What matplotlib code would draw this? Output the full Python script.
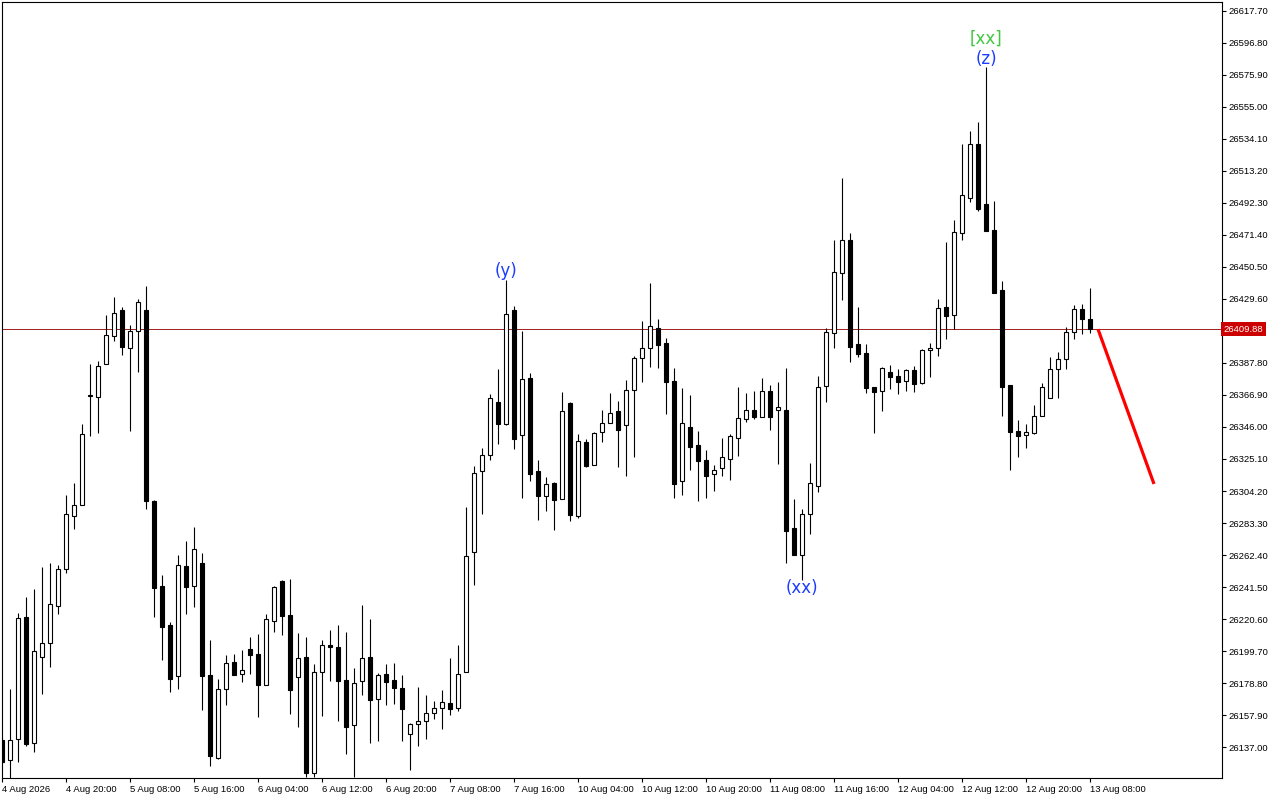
import matplotlib
matplotlib.use("Agg")
import matplotlib.pyplot as plt
import matplotlib.transforms as mtransforms

# H1 bars, oldest first
opens = [
    26141.6, 26128.6, 26142.3, 26221.9, 26139.7, 26195.8, 26205.0, 26229.1, 26253.3, 26287.9,
    26295.1, 26366.3, 26365.6, 26387.2, 26405.4, 26422.4, 26397.6, 26408.7, 26422.4, 26297.7,
    26242.2, 26216.7, 26183.4, 26255.3, 26242.2, 26257.2, 26184.1, 26129.9, 26174.9, 26192.6,
    26184.7, 26201.1, 26197.8, 26177.6, 26219.3, 26245.5, 26223.3, 26182.8, 26195.8, 26120.1,
    26186.0, 26203.7, 26202.4, 26180.8, 26151.4, 26180.2, 26195.8, 26168.4, 26184.7, 26180.8,
    26175.6, 26145.5, 26152.1, 26154.0, 26159.3, 26162.5, 26165.8, 26162.5, 26186.0, 26264.4,
    26317.3, 26327.7, 26362.3, 26348.0, 26422.4, 26340.8, 26378.0, 26317.3, 26301.0, 26309.5,
    26299.0, 26361.7, 26287.9, 26336.2, 26321.2, 26342.8, 26348.6, 26356.5, 26347.3, 26370.2,
    26391.1, 26397.6, 26410.7, 26400.9, 26376.1, 26310.8, 26346.0, 26334.3, 26324.5, 26315.3,
    26319.3, 26325.1, 26338.8, 26351.2, 26357.1, 26352.6, 26369.5, 26357.1, 26357.1, 26280.1,
    26262.4, 26289.2, 26307.5, 26372.8, 26407.4, 26446.6, 26468.1, 26400.2, 26394.3, 26372.1,
    26369.5, 26381.9, 26379.3, 26376.1, 26383.2, 26374.8, 26396.3, 26397.6, 26424.4, 26419.2,
    26472.7, 26495.6, 26530.8, 26491.6, 26474.7, 26435.5, 26373.4, 26343.4, 26340.8, 26342.1,
    26353.2, 26365.0, 26383.9, 26390.4, 26408.1, 26423.1, 26416.5]
highs = [
    26142.9, 26174.9, 26224.6, 26235.0, 26240.2, 26254.6, 26257.2, 26255.9, 26301.6, 26309.5,
    26348.0, 26387.2, 26389.1, 26419.2, 26430.9, 26424.4, 26412.6, 26429.6, 26438.1, 26298.4,
    26249.4, 26218.7, 26262.4, 26271.6, 26280.7, 26263.7, 26206.9, 26181.5, 26197.1, 26197.8,
    26200.4, 26208.9, 26210.9, 26223.9, 26242.2, 26245.8, 26246.8, 26211.5, 26208.9, 26191.3,
    26206.9, 26213.5, 26216.7, 26212.2, 26188.6, 26229.8, 26220.6, 26185.4, 26191.3, 26191.9,
    26184.1, 26152.4, 26176.2, 26171.0, 26167.1, 26174.3, 26195.2, 26203.7, 26293.8, 26320.6,
    26332.3, 26367.6, 26383.9, 26442.0, 26425.0, 26408.7, 26381.3, 26324.5, 26313.4, 26310.2,
    26368.9, 26362.0, 26341.5, 26338.2, 26342.8, 26357.1, 26368.2, 26363.0, 26376.7, 26392.4,
    26415.2, 26440.1, 26416.5, 26404.1, 26384.6, 26371.5, 26366.9, 26343.4, 26331.0, 26321.2,
    26338.8, 26341.5, 26372.1, 26368.2, 26369.5, 26378.0, 26373.4, 26375.4, 26384.6, 26299.0,
    26292.5, 26322.5, 26379.3, 26410.7, 26468.1, 26508.6, 26472.7, 26424.4, 26400.2, 26372.4,
    26384.9, 26386.5, 26383.9, 26383.9, 26385.9, 26396.6, 26400.9, 26429.6, 26466.8, 26481.2,
    26530.8, 26539.3, 26545.2, 26581.1, 26493.6, 26441.4, 26373.7, 26350.6, 26348.0, 26360.4,
    26374.8, 26391.7, 26395.0, 26411.3, 26425.7, 26426.3, 26436.8]
lows = [
    26126.6, 26116.8, 26127.3, 26137.7, 26133.8, 26171.7, 26189.3, 26223.9, 26250.7, 26279.4,
    26294.9, 26340.1, 26342.1, 26387.0, 26402.2, 26393.0, 26343.4, 26381.9, 26292.5, 26221.9,
    26193.9, 26173.0, 26174.9, 26223.9, 26228.5, 26161.2, 26124.7, 26129.2, 26164.5, 26183.8,
    26179.5, 26184.7, 26156.7, 26177.4, 26212.2, 26210.2, 26158.6, 26150.1, 26117.5, 26117.5,
    26157.3, 26180.2, 26154.0, 26132.5, 26117.5, 26171.0, 26139.7, 26141.0, 26164.5, 26165.1,
    26141.0, 26122.0, 26137.7, 26142.3, 26155.3, 26148.8, 26158.0, 26160.6, 26185.7, 26242.8,
    26289.2, 26324.5, 26334.9, 26347.3, 26331.7, 26299.7, 26310.8, 26285.3, 26291.2, 26278.8,
    26298.8, 26284.6, 26286.6, 26319.9, 26321.0, 26336.2, 26348.4, 26319.9, 26314.0, 26326.4,
    26375.4, 26385.2, 26384.6, 26354.5, 26299.7, 26301.6, 26317.9, 26297.7, 26299.7, 26304.2,
    26314.0, 26311.4, 26327.1, 26349.3, 26351.2, 26352.4, 26344.1, 26321.9, 26257.2, 26262.2,
    26246.1, 26276.2, 26303.6, 26362.3, 26397.6, 26429.0, 26388.5, 26391.7, 26368.2, 26342.1,
    26356.5, 26370.8, 26367.6, 26369.5, 26368.9, 26374.1, 26378.7, 26392.4, 26403.5, 26410.0,
    26468.1, 26492.9, 26487.1, 26473.8, 26433.3, 26353.2, 26317.9, 26326.4, 26332.3, 26341.5,
    26353.0, 26364.8, 26365.0, 26383.9, 26403.5, 26406.8, 26407.4]
closes = [
    26127.3, 26141.6, 26221.3, 26139.0, 26199.8, 26205.0, 26230.4, 26253.3, 26289.2, 26295.1,
    26341.5, 26366.9, 26385.9, 26406.1, 26420.5, 26398.3, 26408.7, 26427.6, 26297.7, 26240.9,
    26215.4, 26181.5, 26255.9, 26241.5, 26266.4, 26183.4, 26131.2, 26174.9, 26191.9, 26184.1,
    26187.3, 26197.1, 26177.6, 26220.6, 26241.5, 26222.6, 26174.3, 26195.2, 26120.1, 26186.0,
    26203.7, 26202.4, 26180.2, 26150.1, 26178.9, 26195.2, 26167.8, 26184.1, 26179.5, 26175.6,
    26161.9, 26152.1, 26154.0, 26159.3, 26162.5, 26166.4, 26161.9, 26184.7, 26261.8, 26316.0,
    26327.7, 26365.0, 26348.0, 26419.8, 26338.2, 26377.4, 26315.3, 26301.0, 26308.8, 26298.4,
    26356.5, 26288.6, 26336.9, 26320.6, 26342.1, 26348.6, 26355.2, 26344.1, 26370.2, 26391.1,
    26397.6, 26412.0, 26399.6, 26375.4, 26308.8, 26348.6, 26333.0, 26323.8, 26314.0, 26317.9,
    26326.4, 26340.1, 26351.9, 26357.1, 26352.6, 26369.5, 26352.6, 26359.1, 26278.1, 26262.4,
    26289.2, 26309.5, 26372.1, 26408.1, 26447.2, 26468.1, 26398.3, 26393.7, 26371.5, 26368.9,
    26384.6, 26378.7, 26375.4, 26383.2, 26374.1, 26396.3, 26397.6, 26423.7, 26418.5, 26473.4,
    26497.5, 26530.8, 26488.4, 26474.0, 26433.5, 26372.1, 26342.8, 26340.1, 26342.8, 26353.2,
    26372.1, 26383.9, 26390.4, 26408.1, 26423.1, 26416.5, 26409.88]

x_labels = ["4 Aug 2026", "4 Aug 20:00", "5 Aug 08:00", "5 Aug 16:00", "6 Aug 04:00",
            "6 Aug 12:00", "6 Aug 20:00", "7 Aug 08:00", "7 Aug 16:00", "10 Aug 04:00",
            "10 Aug 12:00", "10 Aug 20:00", "11 Aug 08:00", "11 Aug 16:00", "12 Aug 04:00",
            "12 Aug 12:00", "12 Aug 20:00", "13 Aug 08:00"]
y_ticks = [26617.70, 26596.80, 26575.90, 26555.00, 26534.10, 26513.20, 26492.30, 26471.40,
           26450.50, 26429.60, 26387.80, 26366.90, 26346.00, 26325.10, 26304.20,
           26283.30, 26262.40, 26241.50, 26220.60, 26199.70, 26178.80, 26157.90, 26137.00]
last_price = 26409.88
# wave labels: (bar, price, text, colour)
waves = [(63, 26447.9, "(y)", "#1a3cff"), (100, 26240.9, "(xx)", "#1a3cff"),
         (123, 26586.3, "(z)", "#1a3cff"), (123, 26599.4, "[xx]", "#3fc73f")]
# projected move
proj_x = [137, 144]
proj_y = [26409.88, 26308.8]

FONT = "Liberation Sans"

fig = plt.figure(figsize=(12.8, 8), dpi=100)
fig.patch.set_facecolor("white")
ax = fig.add_axes([2 / 1280, 22 / 800, 1220 / 1280, 776 / 800])
ax.set_facecolor("white")

xs = list(range(len(opens)))
ax.vlines(xs, lows, highs, color="black", linewidth=0.8, zorder=2)
for i in xs:
    o, c = opens[i], closes[i]
    fc = "white" if c >= o else "black"
    ax.bar(i, abs(c - o), bottom=min(o, c), width=0.55, color=fc,
           edgecolor="black", linewidth=0.8, zorder=3)

ax.axhline(last_price, color="#a01e1e", linewidth=0.7, zorder=1)
ax.plot(proj_x, proj_y, color="#ff0000", linewidth=2.3, solid_capstyle="butt", zorder=4)

for bx, py, txt, col in waves:
    ax.text(bx, py, txt, color=col, fontsize=12, ha="center", va="center",
            family="DejaVu Sans", zorder=5)

ax.set_xlim(0, 152.5)
ax.set_ylim(26116.8, 26623.5)

ax.set_xticks(list(range(0, 8 * len(x_labels), 8)))
ax.set_xticklabels(x_labels, ha="left", fontsize=6.8, family=FONT)
ax.yaxis.tick_right()
ax.set_yticks(y_ticks)
ax.set_yticklabels([f"{v:.2f}" for v in y_ticks], fontsize=6.8, family=FONT)
ax.tick_params(axis="both", direction="out", length=3, width=0.8, colors="black", pad=1.5)
ax.tick_params(axis="x", pad=2)
for s in ax.spines.values():
    s.set_color("black")
    s.set_linewidth(0.8)

# current price tag on the price scale
tr = mtransforms.blended_transform_factory(ax.transAxes, ax.transData)
ax.text(1.0015, last_price, f"{last_price:.2f}", transform=tr, ha="left", va="center",
        fontsize=6.8, family=FONT, color="white", clip_on=False,
        bbox=dict(boxstyle="square,pad=0.25", facecolor="#cc0000", edgecolor="none"))

fig.savefig("out.png", dpi=100, facecolor="white")
plt.close()
